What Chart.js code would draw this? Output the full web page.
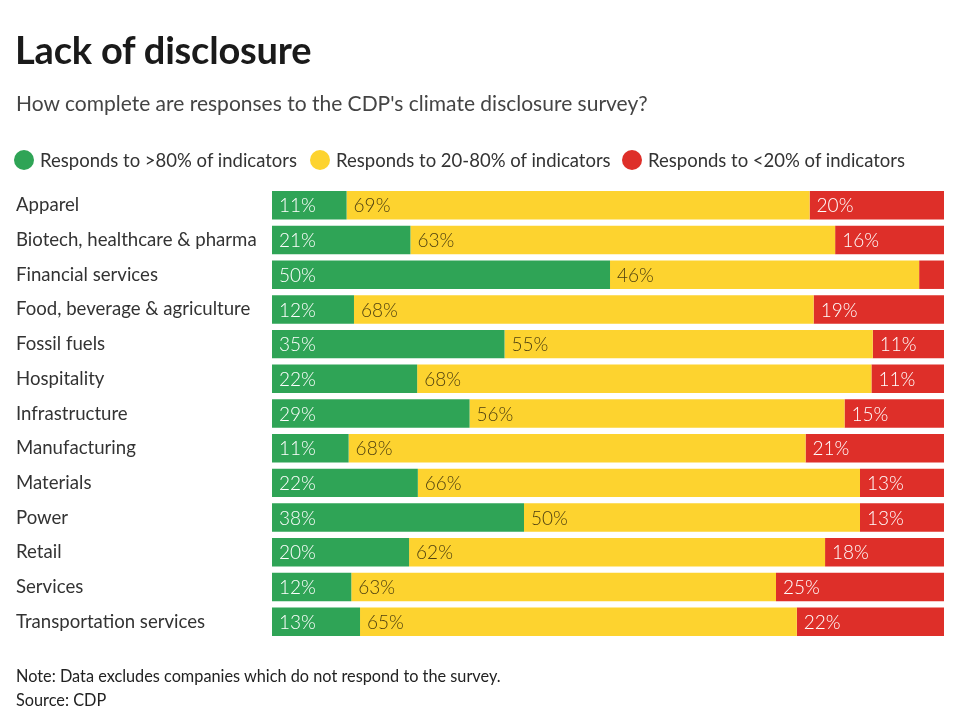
<!DOCTYPE html>
<html>
<head>
<meta charset="utf-8">
<script src="https://cdn.jsdelivr.net/npm/chart.js@4.4.1/dist/chart.umd.min.js"></script>
<style>
  html, body { margin: 0; padding: 0; background: #fff; }
  body { width: 959px; height: 727px; position: relative; overflow: hidden; font-family: Lato, "Noto Sans", sans-serif; }
  #wrap { position: absolute; left: 0; top: 0; width: 959px; height: 727px; }
  .t { position: absolute; white-space: nowrap; }
  #title { left: 15px; top: 26px; font-size: 38px; font-weight: 700; color: #1a1a1a; letter-spacing: -0.2px; }
  #sub { left: 16px; top: 90px; font-size: 21px; color: #444; }
  .leg { position: absolute; top: 147px; height: 26px; display: flex; align-items: center; font-size: 18.5px; color: #333; white-space: nowrap; }
  .dot { width: 20px; height: 20px; border-radius: 50%; margin-right: 6px; }
  #note { left: 16px; top: 666px; font-size: 16.3px; color: #222; }
  #src { left: 16px; top: 690px; font-size: 16.3px; color: #222; }
</style>
</head>
<body>
<div id="wrap"><canvas id="c" width="959" height="727"></canvas></div>
<div class="t" id="title">Lack of disclosure</div>
<div class="t" id="sub">How complete are responses to the CDP's climate disclosure survey?</div>
<div class="leg" id="leg0" style="left:14px"></div>
<div class="leg" id="leg1" style="left:310px"></div>
<div class="leg" id="leg2" style="left:622px"></div>
<div class="t" id="note">Note: Data excludes companies which do not respond to the survey.</div>
<div class="t" id="src">Source: CDP</div>
<script>
const categories = [
  "Apparel",
  "Biotech, healthcare & pharma",
  "Financial services",
  "Food, beverage & agriculture",
  "Fossil fuels",
  "Hospitality",
  "Infrastructure",
  "Manufacturing",
  "Materials",
  "Power",
  "Retail",
  "Services",
  "Transportation services"
];
const seriesNames = [
  "Responds to >80% of indicators",
  "Responds to 20-80% of indicators",
  "Responds to <20% of indicators"
];
const over80  = [11.1, 20.6, 50.3, 12.2, 34.6, 21.6, 29.4, 11.4, 21.7, 37.5, 20.4, 11.8, 13.1];
const mid2080 = [68.9, 63.2, 46.0, 68.4, 54.8, 67.6, 55.8, 68.0, 65.8, 50.0, 61.9, 63.2, 65.0];
const under20 = [20.0, 16.2,  3.7, 19.4, 10.6, 10.8, 14.8, 20.6, 12.5, 12.5, 17.7, 25.0, 21.9];

const colors = ["#2fa456", "#fdd32f", "#de2f29"];
const labelColors = ["#ffffff", "#4d3f10", "#ffffff"];

seriesNames.forEach((n, i) => {
  const el = document.getElementById("leg" + i);
  el.innerHTML = '<span class="dot" style="background:' + colors[i] + '"></span><span>' + n + '</span>';
});

const valueLabels = {
  id: "valueLabels",
  afterDatasetsDraw(chart) {
    const ctx = chart.ctx;
    ctx.save();
    ctx.font = "300 19px Lato, 'Noto Sans', sans-serif";
    ctx.textBaseline = "middle";
    ctx.textAlign = "left";
    chart.data.datasets.forEach((ds, di) => {
      const meta = chart.getDatasetMeta(di);
      meta.data.forEach((bar, i) => {
        const v = ds.data[i];
        if (v < 5) return;
        const left = Math.min(bar.x, bar.base);
        ctx.fillStyle = labelColors[di];
        ctx.fillText(Math.round(v) + "%", left + 7, bar.y + 1);
      });
    });
    ctx.restore();
  }
};

new Chart(document.getElementById("c"), {
  type: "bar",
  data: {
    labels: categories,
    datasets: [
      { label: seriesNames[0], data: over80,  backgroundColor: colors[0] },
      { label: seriesNames[1], data: mid2080, backgroundColor: colors[1] },
      { label: seriesNames[2], data: under20, backgroundColor: colors[2] }
    ]
  },
  options: {
    indexAxis: "y",
    responsive: false,
    animation: false,
    devicePixelRatio: 1,
    barPercentage: 0.82,
    categoryPercentage: 1,
    layout: { padding: { left: 16, right: 15, top: 188, bottom: 88 } },
    plugins: { legend: { display: false }, tooltip: { enabled: false } },
    scales: {
      x: { stacked: true, min: 0, max: 100, display: false },
      y: {
        stacked: true,
        grid: { display: false },
        border: { display: false },
        afterFit(scale) { scale.width = 256; },
        ticks: {
          crossAlign: "far",
          padding: 0,
          color: "#333",
          font: { family: "Lato, 'Noto Sans', sans-serif", size: 18.6, weight: 400, lineHeight: 1.0 }
        }
      }
    }
  },
  plugins: [valueLabels]
});
</script>
</body>
</html>
